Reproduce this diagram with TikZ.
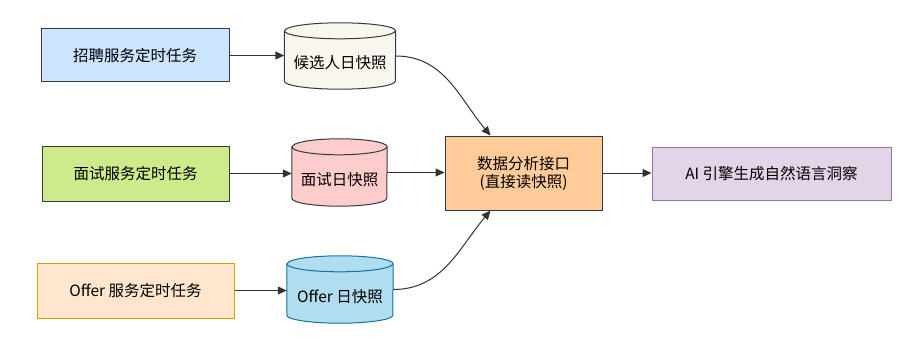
\documentclass[tikz,border=0pt]{standalone}
\usepackage{fontspec}
\setmainfont{Noto Sans CJK SC}
\usetikzlibrary{arrows.meta,backgrounds}
\definecolor{dk}{HTML}{36393D}
\definecolor{f1}{HTML}{CCE5FF}
\definecolor{f2}{HTML}{CDEB8B}
\definecolor{f3}{HTML}{FFE6CC}
\definecolor{s3}{HTML}{D79B00}
\definecolor{c1f}{HTML}{F9F7ED}
\definecolor{c2f}{HTML}{FFCCCC}
\definecolor{c3f}{HTML}{B1DDF0}
\definecolor{c3s}{HTML}{10739E}
\definecolor{mf}{HTML}{FFCC99}
\definecolor{af}{HTML}{E1D5E7}
\definecolor{as}{HTML}{9673A6}
\definecolor{ar}{HTML}{333333}
\begin{document}
\begin{tikzpicture}[x=1pt,y=1pt,
  every node/.style={font=\fontsize{15.5}{18}\selectfont, text=black, inner sep=0pt},
  taskbox/.style={draw, line width=1pt, rectangle, align=center},
  cylnode/.style={rectangle, draw=none},
  cyltext/.style={font=\fontsize{15.5}{18}\selectfont},
  conn/.style={draw=ar, line width=1pt, -{Triangle[length=9pt,width=8pt]}}
]
\useasboundingbox (0,0) rectangle (912,346);

\node[taskbox, draw=dk, fill=f1, minimum width=188pt, minimum height=53pt] (b1) at (135,290.5) {招聘服务定时任务};
\node[taskbox, draw=dk, fill=f2, minimum width=187pt, minimum height=55pt] (b2) at (135.5,172.5) {面试服务定时任务};
\node[taskbox, draw=s3, fill=f3, minimum width=197pt, minimum height=55pt] (b3) at (135.5,55.5) {Offer 服务定时任务};

\node[cylnode, minimum width=111pt, minimum height=66pt, label={[cyltext, yshift=-7pt]center:候选人日快照}] (c1) at (340,290) {};
\node[cylnode, minimum width=95pt, minimum height=67pt, label={[cyltext, yshift=-7pt]center:面试日快照}] (c2) at (339.5,173.5) {};
\node[cylnode, minimum width=106pt, minimum height=67pt, label={[cyltext, yshift=-7pt]center:Offer 日快照}] (c3) at (340,56.5) {};

\begin{pgfonlayer}{background}
  % cylinder 1
  \draw[draw=dk, fill=c1f, line width=1pt] ([yshift=-8pt]c1.north west) -- ([yshift=8pt]c1.south west)
    arc[start angle=180, end angle=360, x radius=55.5pt, y radius=8pt] -- ([yshift=-8pt]c1.north east)
    arc[start angle=0, end angle=180, x radius=55.5pt, y radius=8pt] -- cycle;
  \draw[draw=dk, line width=1pt] ([yshift=-8pt]c1.north west) arc[start angle=180, end angle=360, x radius=55.5pt, y radius=8pt];
  % cylinder 2
  \draw[draw=dk, fill=c2f, line width=1pt] ([yshift=-8pt]c2.north west) -- ([yshift=8pt]c2.south west)
    arc[start angle=180, end angle=360, x radius=47.5pt, y radius=8pt] -- ([yshift=-8pt]c2.north east)
    arc[start angle=0, end angle=180, x radius=47.5pt, y radius=8pt] -- cycle;
  \draw[draw=dk, line width=1pt] ([yshift=-8pt]c2.north west) arc[start angle=180, end angle=360, x radius=47.5pt, y radius=8pt];
  % cylinder 3
  \draw[draw=c3s, fill=c3f, line width=1pt] ([yshift=-8pt]c3.north west) -- ([yshift=8pt]c3.south west)
    arc[start angle=180, end angle=360, x radius=53pt, y radius=8pt] -- ([yshift=-8pt]c3.north east)
    arc[start angle=0, end angle=180, x radius=53pt, y radius=8pt] -- cycle;
  \draw[draw=c3s, line width=1pt] ([yshift=-8pt]c3.north west) arc[start angle=180, end angle=360, x radius=53pt, y radius=8pt];
\end{pgfonlayer}

\node[taskbox, draw=dk, fill=mf, minimum width=157pt, minimum height=74pt] (m) at (523.5,173) {数据分析接口\\(直接读快照)};
\node[taskbox, draw=as, fill=af, minimum width=239pt, minimum height=53pt] (ai) at (771.5,172.5) {AI 引擎生成自然语言洞察};

\draw[conn] (b1.east) -- (b1.east -| c1.west);
\draw[conn] (b2.east) -- (b2.east -| c2.west);
\draw[conn] (b3.east) -- (b3.east -| c3.west);
\draw[conn] (c2.east) -- (c2.east -| m.west);
\draw[conn] (c1.east) to[out=0, in=130] ([xshift=-33pt]m.north);
\draw[conn] (c3.east) to[out=0, in=-130] ([xshift=-33pt]m.south);
\draw[conn] (m.east) -- (m.east -| ai.west);
\end{tikzpicture}
\end{document}
